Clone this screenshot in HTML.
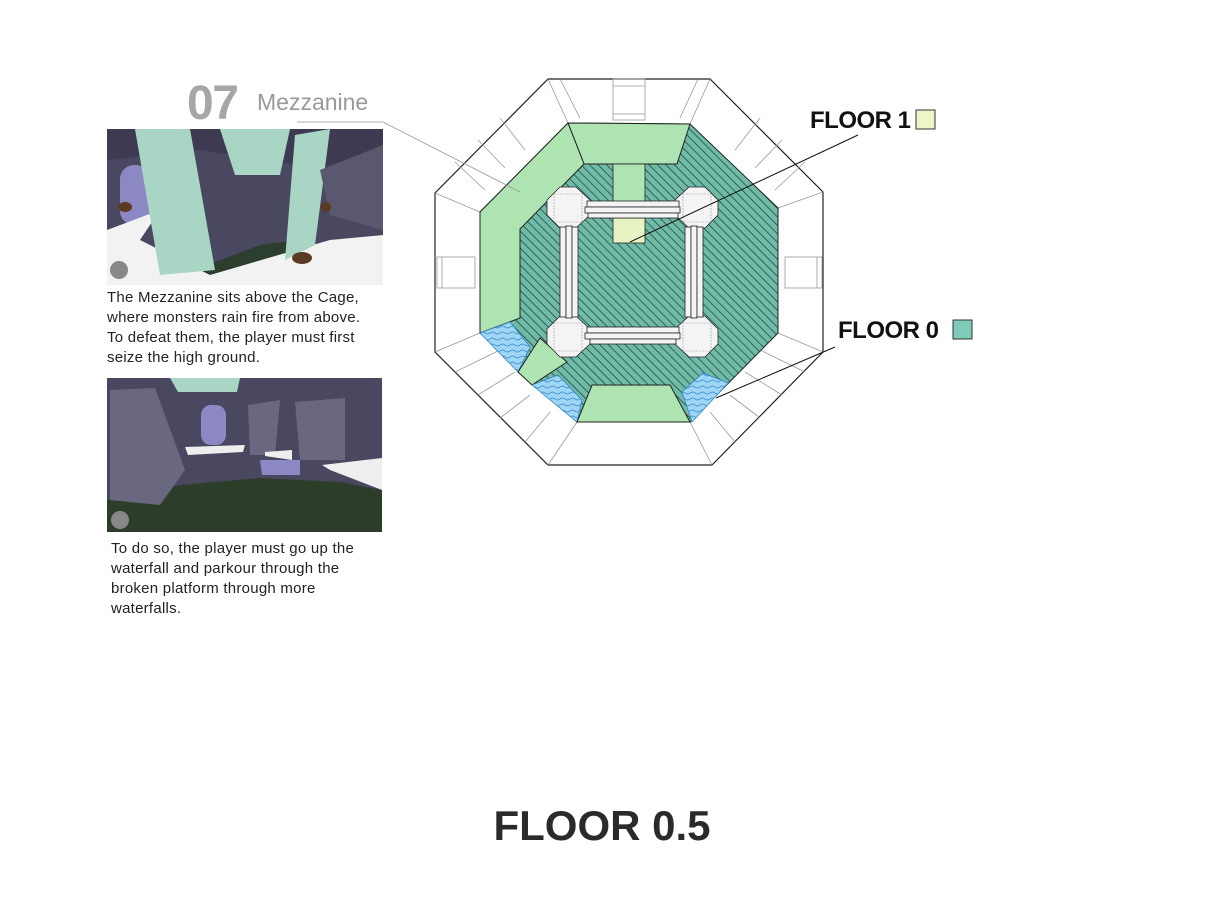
<!DOCTYPE html>
<html><head><meta charset="utf-8"><style>
html,body{margin:0;padding:0;background:#fff;}
body{width:1215px;height:899px;position:relative;overflow:hidden;font-family:"Liberation Sans",sans-serif;}
.t{position:absolute;font-size:15px;line-height:20px;color:#222;letter-spacing:0.25px;}
</style></head><body>
<svg width="1215" height="899" style="position:absolute;left:0;top:0">
<defs>
<pattern id="h" patternUnits="userSpaceOnUse" width="6" height="6" patternTransform="rotate(-45)">
<rect width="6" height="6" fill="#6fbba8"/><line x1="0" y1="0" x2="0" y2="6" stroke="#1f3a35" stroke-width="1.4"/>
</pattern>
<pattern id="w" patternUnits="userSpaceOnUse" width="10" height="6">
<rect width="10" height="6" fill="#9fd6f6"/><path d="M0 3 Q2.5 1 5 3 T10 3" fill="none" stroke="#2f86c8" stroke-width="0.8"/>
</pattern>
</defs>
<polygon points="548,79 710,79 823,192 823,352 712,465 548,465 435,352 435,193" fill="#fff" stroke="#222" stroke-width="1.2"/>
<g stroke="#999" stroke-width="0.8" fill="none">
<rect x="613" y="79" width="32" height="41"/><line x1="613" y1="86" x2="645" y2="86"/><line x1="613" y1="114" x2="645" y2="114"/>
<rect x="437" y="257" width="38" height="31"/><line x1="442" y1="257" x2="442" y2="288"/>
<rect x="785" y="257" width="37" height="31"/><line x1="817" y1="257" x2="817" y2="288"/>
<line x1="548" y1="79" x2="568" y2="123"/><line x1="710" y1="79" x2="690" y2="124"/>
<line x1="435" y1="193" x2="480" y2="212"/><line x1="823" y1="192" x2="778" y2="208"/>
<line x1="435" y1="352" x2="480" y2="333"/><line x1="823" y1="352" x2="778" y2="333"/>
<line x1="548" y1="465" x2="577" y2="422"/><line x1="712" y1="465" x2="690" y2="422"/>
<line x1="500" y1="118" x2="525" y2="150"/><line x1="478" y1="140" x2="505" y2="168"/><line x1="455" y1="162" x2="485" y2="190"/>
<line x1="760" y1="118" x2="735" y2="150"/><line x1="782" y1="140" x2="755" y2="168"/><line x1="805" y1="162" x2="775" y2="190"/>
<line x1="455" y1="372" x2="500" y2="350"/><line x1="478" y1="395" x2="515" y2="372"/><line x1="500" y1="418" x2="530" y2="395"/><line x1="525" y1="442" x2="550" y2="412"/>
<line x1="805" y1="372" x2="760" y2="350"/><line x1="782" y1="395" x2="745" y2="372"/><line x1="760" y1="418" x2="730" y2="395"/><line x1="735" y1="442" x2="710" y2="412"/>
<line x1="560" y1="79" x2="580" y2="118"/><line x1="698" y1="79" x2="680" y2="118"/>
</g>
<polygon points="568,123 690,124 778,208 778,333 690,422 577,422 480,333 480,212" fill="url(#h)" stroke="#222" stroke-width="1"/>
<polygon points="568,123 690,124 677,164 584,164" fill="#aee3b2" stroke="#222" stroke-width="1"/>
<polygon points="568,123 584,164 520,229 520,318 480,333 480,212" fill="#aee3b2" stroke="#222" stroke-width="1"/>
<polygon points="480,333 510,322 530,347 518,372" fill="url(#w)" stroke="#2f86c8" stroke-width="0.8"/>
<polygon points="518,372 540,338 567,362 532,385" fill="#aee3b2" stroke="#222" stroke-width="1"/>
<polygon points="532,385 558,375 582,400 577,422" fill="url(#w)" stroke="#2f86c8" stroke-width="0.8"/>
<polygon points="592,385 670,385 690,422 577,422" fill="#aee3b2" stroke="#222" stroke-width="1"/>
<polygon points="682,392 703,373 728,383 692,422" fill="url(#w)" stroke="#2f86c8" stroke-width="0.8"/>
<rect x="613" y="164" width="32" height="40" fill="#aee3b2" stroke="#222" stroke-width="0.8"/>
<rect x="613" y="218" width="32" height="25" fill="#e8f3c4" stroke="#222" stroke-width="0.8"/>
<g fill="#f4f4f4" stroke="#222" stroke-width="0.8">
<polygon points="560,187 576,187 590,200 590,215 576,228 560,228 547,215 547,200"/>
<polygon points="689,187 705,187 718,200 718,215 705,228 689,228 675,215 675,200"/>
<polygon points="560,316 576,316 590,329 590,344 576,357 560,357 547,344 547,329"/>
<polygon points="689,316 705,316 718,329 718,344 705,357 689,357 675,344 675,329"/>
<rect x="587" y="201" width="92" height="6"/><rect x="585" y="207" width="95" height="6"/><rect x="588" y="213" width="90" height="5"/>
<rect x="587" y="327" width="92" height="6"/><rect x="585" y="333" width="95" height="6"/><rect x="590" y="339" width="86" height="5"/>
<rect x="560" y="227" width="6" height="90"/><rect x="566" y="226" width="6" height="92"/><rect x="572" y="227" width="6" height="90"/>
<rect x="685" y="227" width="6" height="90"/><rect x="691" y="226" width="6" height="92"/><rect x="697" y="227" width="6" height="90"/>
</g>
<g fill="none" stroke="#999" stroke-width="0.6" stroke-dasharray="2,1">
<rect x="554" y="194" width="28" height="28"/><rect x="683" y="194" width="28" height="28"/>
<rect x="554" y="323" width="28" height="28"/><rect x="683" y="323" width="28" height="28"/>
</g>
<polyline points="297,122 383,122 520,192" fill="none" stroke="#999" stroke-width="0.8"/>
<line x1="858" y1="135" x2="630" y2="242" stroke="#111" stroke-width="1"/>
<line x1="835" y1="347" x2="716" y2="398" stroke="#111" stroke-width="1"/>
<rect x="916" y="110" width="19" height="19" fill="#eef5c8" stroke="#333" stroke-width="1"/>
<rect x="953" y="320" width="19" height="19" fill="#7fcbb8" stroke="#333" stroke-width="1"/>
<g>
<rect x="107" y="129" width="276" height="156" fill="#4a4760"/>
<polygon points="107,129 383,129 383,200 330,170 200,150 107,160" fill="#3d3a52"/>
<rect x="120" y="165" width="30" height="60" rx="14" fill="#8c88c4"/>
<polygon points="195,270 260,245 300,240 300,275 250,285 195,285" fill="#2c3e2e"/>
<polygon points="107,230 160,210 140,240 210,275 330,240 383,235 383,285 107,285" fill="#f2f2f2"/>
<polygon points="135,129 190,129 215,270 160,275" fill="#a9d6c4"/>
<polygon points="295,135 330,129 315,245 285,260" fill="#a9d6c4"/>
<polygon points="220,129 290,129 280,175 235,175" fill="#a9d6c4"/>
<polygon points="320,170 383,145 383,230 330,215" fill="#5a586e"/>
<circle cx="119" cy="270" r="9" fill="#888"/>
<ellipse cx="125" cy="207" rx="7" ry="5" fill="#5a3a22"/><ellipse cx="302" cy="258" rx="10" ry="6" fill="#5a3a22"/><ellipse cx="326" cy="207" rx="5" ry="5" fill="#5a3a22"/>
</g>
<g>
<rect x="107" y="378" width="275" height="154" fill="#4a4760"/>
<polygon points="107,500 180,485 260,478 340,482 382,490 382,532 107,532" fill="#2c3e2a"/>
<polygon points="110,390 155,388 185,470 160,505 110,500" fill="#6a6880"/>
<polygon points="248,405 280,400 275,455 250,455" fill="#6a6880"/>
<polygon points="295,402 345,398 345,460 300,460" fill="#6a6880"/>
<rect x="201" y="405" width="25" height="40" rx="10" fill="#8c88c4"/>
<polygon points="185,447 245,445 243,452 188,455" fill="#eee"/>
<polygon points="265,452 292,450 292,460 265,456" fill="#eee"/>
<polygon points="322,465 382,458 382,490 330,470" fill="#eee"/>
<polygon points="170,378 240,378 237,392 178,392" fill="#a9d6c4"/>
<polygon points="260,460 300,460 300,475 262,475" fill="#8c88c4"/>
<circle cx="120" cy="520" r="9" fill="#888"/>
</g>
<text x="187" y="119" font-family="Liberation Sans" font-weight="bold" font-size="48" fill="#a6a6a6" letter-spacing="-1.5">07</text>
<text x="257" y="110" font-family="Liberation Sans" font-size="23" fill="#999">Mezzanine</text>
<text x="810" y="128" font-family="Liberation Sans" font-weight="bold" font-size="24" fill="#111" letter-spacing="-0.5">FLOOR 1</text>
<text x="838" y="338" font-family="Liberation Sans" font-weight="bold" font-size="24" fill="#111" letter-spacing="-0.5">FLOOR 0</text>
<text x="602" y="840" text-anchor="middle" font-family="Liberation Sans" font-weight="bold" font-size="42" fill="#2a2a2a">FLOOR 0.5</text>
</svg>
<div class="t" style="left:107px;top:288px;width:300px">The Mezzanine sits above the Cage,<br>where monsters rain fire from above.<br>To defeat them, the player must first<br>seize the high ground.</div>
<div class="t" style="left:111px;top:539px;width:290px">To do so, the player must go up the<br>waterfall and parkour through the<br>broken platform through more<br>waterfalls.</div>
</body></html>
